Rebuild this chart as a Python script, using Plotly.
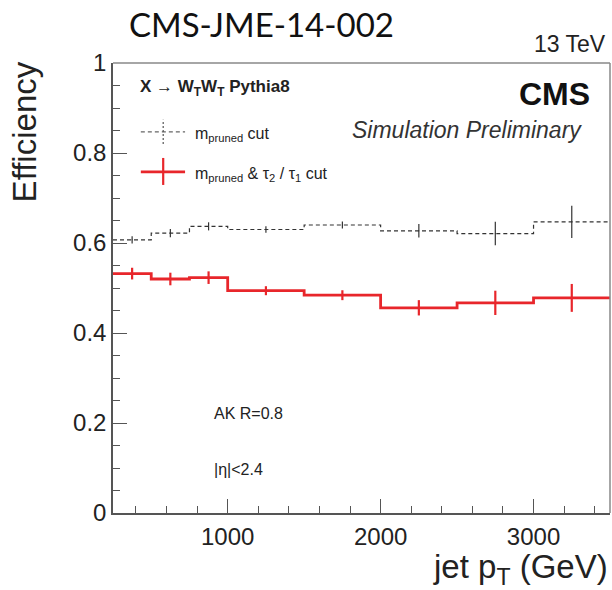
import plotly.graph_objects as go

# Binning in jet pT (GeV) and per-bin efficiencies
bin_edges = [250, 500, 750, 1000, 1500, 2000, 2500, 3000, 3500]
eff_mpruned = [0.607, 0.622, 0.637, 0.630, 0.640, 0.627, 0.621, 0.647]
err_mpruned = [0.008, 0.009, 0.009, 0.007, 0.008, 0.015, 0.026, 0.036]
eff_mpruned_tau = [0.532, 0.520, 0.523, 0.494, 0.484, 0.456, 0.467, 0.478]
err_mpruned_tau = [0.013, 0.014, 0.014, 0.010, 0.011, 0.017, 0.027, 0.031]

y_ticks = [0, 0.2, 0.4, 0.6, 0.8, 1]
y_tick_text = ["0", "0.2", "0.4", "0.6", "0.8", "1"]
x_ticks = [1000, 2000, 3000]
x_tick_text = ["1000", "2000", "3000"]

centers = [(a + b) / 2 for a, b in zip(bin_edges[:-1], bin_edges[1:])]

RED = "#e8262b"
DARK = "#333333"
FONT = "Liberation Sans"

fig = go.Figure()

# dashed histogram: mass cut only
fig.add_trace(go.Scatter(
    x=bin_edges, y=eff_mpruned + [eff_mpruned[-1]],
    mode="lines", line=dict(shape="hv", color=DARK, width=1.2, dash="4px,3px"),
    hoverinfo="skip", showlegend=False))
fig.add_trace(go.Scatter(
    x=centers, y=eff_mpruned, mode="markers",
    marker=dict(size=1, color=DARK),
    error_y=dict(type="data", array=err_mpruned, color=DARK, thickness=1.2, width=0),
    showlegend=False))

# solid histogram: mass + n-subjettiness cut
fig.add_trace(go.Scatter(
    x=bin_edges, y=eff_mpruned_tau + [eff_mpruned_tau[-1]],
    mode="lines", line=dict(shape="hv", color=RED, width=2.8),
    hoverinfo="skip", showlegend=False))
fig.add_trace(go.Scatter(
    x=centers, y=eff_mpruned_tau, mode="markers",
    marker=dict(size=1, color=RED),
    error_y=dict(type="data", array=err_mpruned_tau, color=RED, thickness=2.2, width=0),
    showlegend=False))

axis_common = dict(
    showgrid=False, zeroline=False, showline=True, linecolor="#555555", linewidth=1.5,
    ticks="inside", tickcolor="#555555", tickwidth=1.2,
    tickfont=dict(family=FONT, size=24, color="#222222"),
)

fig.update_xaxes(
    range=[250, 3500], tickvals=x_ticks, ticktext=x_tick_text, ticklen=14,
    minor=dict(dtick=200, tick0=0, ticks="inside", ticklen=7, tickcolor="#555555", tickwidth=1),
    mirror=False, ticklabelstandoff=1, **axis_common)
fig.update_yaxes(
    range=[0, 1], tickvals=y_ticks, ticktext=y_tick_text, ticklen=14,
    minor=dict(dtick=0.05, tick0=0, ticks="inside", ticklen=7, tickcolor="#555555", tickwidth=1),
    mirror=False, ticklabelstandoff=0, **axis_common)

# frame top and right edges
fig.add_shape(type="line", xref="paper", yref="paper", x0=0, x1=1, y0=1, y1=1,
              line=dict(color="#888888", width=1.5))
fig.add_shape(type="line", xref="paper", yref="paper", x0=1, x1=1, y0=0, y1=1,
              line=dict(color="#888888", width=1.5))

ann = []


def text(x, y, s, size, xanchor="left", family=FONT, color="#222222", angle=0):
    ann.append(dict(x=x, y=y, xref="paper", yref="paper", text=s, showarrow=False,
                    xanchor=xanchor, yanchor="middle", textangle=angle,
                    font=dict(family=family, size=size, color=color)))


text(0.299, 1.087, "CMS-JME-14-002", 33, xanchor="center", family="Lato", color="#111111")
text(0.995, 1.043, "13 TeV", 23, xanchor="right")
text(-0.178, 0.847, "Efficiency", 33, xanchor="center", angle=-90)
text(1.0, -0.125, "jet p<sub>T</sub> (GeV)", 33, xanchor="right")
text(0.963, 0.93, "<b>CMS</b>", 32, xanchor="right", color="#111111")
text(0.947, 0.852, "<i>Simulation Preliminary</i>", 23, xanchor="right", color="#333333")
text(0.05, 0.945, "<b>X → W<sub>T</sub>W<sub>T</sub> Pythia8</b>", 17)
text(0.16, 0.842, "m<sub>pruned</sub> cut", 16)
text(0.16, 0.753, "m<sub>pruned</sub> &amp; τ<sub>2</sub> / τ<sub>1</sub> cut", 16)
text(0.2, 0.222, "AK R=0.8", 16)
text(0.2, 0.096, "|η|<2.4", 16)

fig.update_layout(annotations=ann)

# legend keys
fig.add_shape(type="line", xref="paper", yref="paper", x0=0.056, x1=0.145, y0=0.847, y1=0.847,
              line=dict(color="#666666", width=1.2, dash="4px,3px"))
fig.add_shape(type="line", xref="paper", yref="paper", x0=0.101, x1=0.101, y0=0.82, y1=0.874,
              line=dict(color="#555555", width=1.2, dash="2px,2px"))
fig.add_shape(type="line", xref="paper", yref="paper", x0=0.056, x1=0.145, y0=0.758, y1=0.758,
              line=dict(color=RED, width=2.6))
fig.add_shape(type="line", xref="paper", yref="paper", x0=0.101, x1=0.101, y0=0.729, y1=0.789,
              line=dict(color=RED, width=2.2))

fig.update_layout(
    width=612, height=590,
    margin=dict(l=113, r=2, t=63, b=77),
    paper_bgcolor="white", plot_bgcolor="white",
    showlegend=False,
)

fig.write_html("out.html")
